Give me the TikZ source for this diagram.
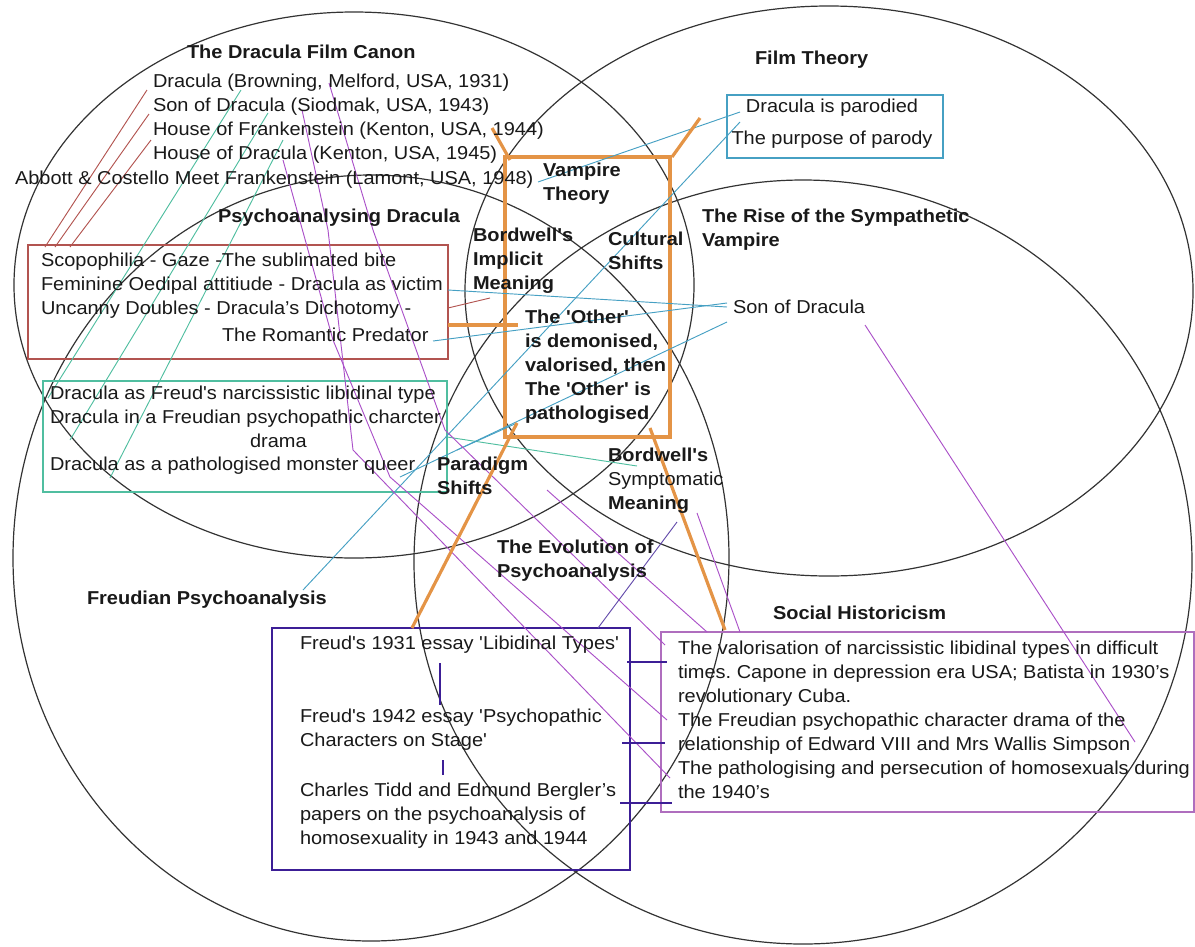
\documentclass[tikz,border=0pt]{standalone}
\usepackage{fontspec}
\newfontfamily\lib{Liberation Sans}[FakeStretch=1.07]
\definecolor{redc}{RGB}{178,84,80}
\definecolor{tealc}{RGB}{80,190,160}
\definecolor{bluec}{RGB}{70,160,195}
\definecolor{violc}{RGB}{170,80,200}
\definecolor{pinkc}{RGB}{175,110,190}
\definecolor{indc}{RGB}{60,30,150}
\definecolor{orc}{RGB}{228,148,70}
\frenchspacing
\begin{document}
\begin{tikzpicture}[x=0.75pt,y=-0.75pt,
  base/.style={inner sep=0pt, outer sep=0pt, align=left, anchor=west, text=black!90},
  txt/.style={base, font=\lib\fontsize{14pt}{18pt}\selectfont},
  lbl/.style={base, font=\lib\fontsize{14pt}{18pt}\selectfont\bfseries},
  ring/.style={draw=black!80, line width=0.9pt},
  frame/.style={inner sep=0pt, outer sep=0pt, anchor=north west},
  redl/.style={draw=redc, line width=0.7pt},
  greenl/.style={draw=tealc, line width=0.7pt},
  bluel/.style={draw=bluec, line width=0.7pt},
  purpl/.style={draw=violc, line width=0.7pt},
  orl/.style={draw=orc, line width=2.4pt},
  indl/.style={draw=indc, line width=2pt}
]
\useasboundingbox (0,0) rectangle (1195,946);

% ---- the four overlapping ellipses
\coordinate (c1) at (354,285);
\coordinate (c2) at (829,291);
\coordinate (c3) at (371,558);
\coordinate (c4) at (803,562);
\draw[ring] (c1) ellipse [x radius=255pt, y radius=204.75pt];
\draw[ring] (c2) ellipse [x radius=273pt, y radius=213.75pt];
\draw[ring] (c3) ellipse [x radius=268.5pt, y radius=287.25pt];
\draw[ring] (c4) ellipse [x radius=291.75pt, y radius=286.5pt];

% ---- boxes
\node[frame, draw=redc, line width=1.1pt, minimum width=315pt, minimum height=85.5pt] (redbox) at (28,245) {};
\node[frame, draw=tealc, line width=1.1pt, minimum width=303pt, minimum height=83.25pt] (gbox) at (43,381) {};
\node[frame, draw=bluec, line width=1.1pt, minimum width=162pt, minimum height=47.25pt] (pbox) at (727,95) {};
\node[frame, draw=indc, line width=2.2pt, minimum width=268.5pt, minimum height=181.5pt] (fbox) at (272,628) {};
\node[frame, draw=pinkc, line width=1.1pt, minimum width=399.75pt, minimum height=135pt] (sbox) at (661,632) {};
\node[frame, draw=orc, line width=2.4pt, minimum width=123.75pt, minimum height=210pt] (orbox) at (505,157) {};

% ---- connector end points
\coordinate (ra1) at (147,90);  \coordinate (rb1) at (45,247);
\coordinate (ra2) at (149,114); \coordinate (rb2) at (55,247);
\coordinate (ra3) at (151,140); \coordinate (rb3) at (70,247);
\coordinate (ra4) at (448,308); \coordinate (rb4) at (490,298);
\coordinate (ga1) at (241,90);  \coordinate (gb1) at (48,398);
\coordinate (ga2) at (268,113); \coordinate (gb2) at (70,440);
\coordinate (ga3) at (283,140); \coordinate (gb3) at (110,478);
\coordinate (ga4) at (447,437); \coordinate (gb4) at (637,466);
\coordinate (ba1) at (448,290); \coordinate (bb1) at (727,307);
\coordinate (ba2) at (433,341); \coordinate (bb2) at (727,303);
\coordinate (ba3) at (400,477); \coordinate (bb3) at (727,322);
\coordinate (ba4) at (538,182); \coordinate (bb4) at (740,112);
\coordinate (ba5) at (303,590); \coordinate (bb5) at (740,122);
\coordinate (ba6) at (457,450); \coordinate (bb6) at (517,423);
\coordinate (pa1) at (283,160); \coordinate (pm1) at (333,340); \coordinate (pn1) at (390,477); \coordinate (pb1) at (667,720);
\coordinate (pa2) at (329,83);  \coordinate (pm2) at (373,230); \coordinate (pn2) at (445,430); \coordinate (pb2) at (665,645);
\coordinate (pa3) at (302,110); \coordinate (pm3) at (328,230); \coordinate (pn3) at (353,450); \coordinate (pb3) at (670,778);
\coordinate (pa4) at (547,490); \coordinate (pb4) at (707,632);
\coordinate (pa5) at (697,513); \coordinate (pb5) at (740,632);
\coordinate (pa6) at (865,325); \coordinate (pb6) at (1135,742);
\coordinate (pa7) at (677,522); \coordinate (pb7) at (598,628);
\coordinate (oa1) at (492,128); \coordinate (ob1) at (510,160);
\coordinate (oa2) at (700,118); \coordinate (ob2) at (672,157);
\coordinate (oa3) at (517,423); \coordinate (ob3) at (412,628);
\coordinate (oa4) at (650,428); \coordinate (ob4) at (725,630);
\coordinate (oa5) at (448,325); \coordinate (ob5) at (518,325);
\coordinate (ia1) at (627,662); \coordinate (ib1) at (667,662);
\coordinate (ia2) at (622,743); \coordinate (ib2) at (665,743);
\coordinate (ia3) at (620,803); \coordinate (ib3) at (672,803);
\coordinate (va1) at (440,663); \coordinate (vb1) at (440,705);
\coordinate (va2) at (443,760); \coordinate (vb2) at (443,775);

% ---- thin connectors
\draw[redl] (ra1) -- (rb1);
\draw[redl] (ra2) -- (rb2);
\draw[redl] (ra3) -- (rb3);
\draw[redl] (ra4) -- (rb4);
\draw[greenl] (ga1) -- (gb1);
\draw[greenl] (ga2) -- (gb2);
\draw[greenl] (ga3) -- (gb3);
\draw[greenl] (ga4) -- (gb4);
\draw[bluel] (ba1) -- (bb1);
\draw[bluel] (ba2) -- (bb2);
\draw[bluel] (ba3) -- (bb3);
\draw[bluel] (ba4) -- (bb4);
\draw[bluel] (ba5) -- (bb5);
\draw[bluel] (ba6) -- (bb6);
\draw[purpl] (pa1) -- (pm1) -- (pn1) -- (pb1);
\draw[purpl] (pa2) -- (pm2) -- (pn2) -- (pb2);
\draw[purpl] (pa3) -- (pm3) -- (pn3) -- (pb3);
\draw[purpl] (pa4) -- (pb4);
\draw[purpl] (pa5) -- (pb5);
\draw[purpl] (pa6) -- (pb6);
\draw[draw=indc!80, line width=0.7pt] (pa7) -- (pb7);

% ---- orange and indigo connectors
\draw[orl] (oa1) -- (ob1);
\draw[orl] (oa2) -- (ob2);
\draw[orl] (oa3) -- (ob3);
\draw[orl] (oa4) -- (ob4);
\draw[orl] (oa5) -- (ob5);
\draw[indl] (ia1) -- (ib1);
\draw[indl] (ia2) -- (ib2);
\draw[indl] (ia3) -- (ib3);
\draw[indl] (va1) -- (vb1);
\draw[indl] (va2) -- (vb2);

% ---- bold labels
\node[lbl] (tcanon) at (187,52) {The Dracula Film Canon};
\node[lbl] (tfilm) at (755,60) {Film Theory};
\node[lbl] (tvamp) at (543,183.5) {Vampire\\Theory};
\node[lbl] (tpsyd) at (218,218) {Psychoanalysing Dracula};
\node[lbl] (timpl) at (473,261) {Bordwell's\\Implicit\\Meaning};
\node[lbl] (tcult) at (608,251) {Cultural\\Shifts};
\node[lbl] (trise) at (702,230) {The Rise of the Sympathetic\\Vampire};
\node[lbl] (tother) at (525,366.5) {The 'Other'\\is demonised,\\valorised, then\\The 'Other' is\\pathologised};
\node[lbl] (tpara) at (437,475.5) {Paradigm\\Shifts};
\node[txt] (tsymp) at (608,481) {\textbf{Bordwell's}\\Symptomatic\\\textbf{Meaning}};
\node[lbl] (tevol) at (497,561) {The Evolution of\\Psychoanalysis};
\node[lbl] (tfreud) at (87,600) {Freudian Psychoanalysis};
\node[lbl] (tsoc) at (773,613) {Social Historicism};

% ---- regular texts
\node[txt] (films) at (153,119) {Dracula (Browning, Melford, USA, 1931)\\Son of Dracula (Siodmak, USA, 1943)\\House of Frankenstein (Kenton, USA, 1944)\\House of Dracula (Kenton, USA, 1945)};
\node[txt] (abbott) at (15,180) {Abbott \& Costello Meet Frankenstein (Lamont, USA, 1948)};
\node[txt] (rtext) at (41,286) {Scopophilia - Gaze -The sublimated bite\\Feminine Oedipal attitiude - Dracula as victim\\Uncanny Doubles - Dracula’s Dichotomy -};
\node[txt] (rtext2) at (222,335) {The Romantic Predator};
\node[txt] (gtext) at (50,406.5) {Dracula as Freud's narcissistic libidinal type\\Dracula in a Freudian psychopathic charcter};
\node[txt] (gdrama) at (250,441) {drama};
\node[txt] (gqueer) at (50,466) {Dracula as a pathologised monster queer};
\node[txt, align=center, anchor=center] (ptext) at (832,124) {Dracula is parodied\\[6pt]The purpose of parody};
\node[txt] (son) at (733,307) {Son of Dracula};
\node[txt] (f1) at (300,645) {Freud's 1931 essay 'Libidinal Types'};
\node[txt] (f2) at (300,730) {Freud's 1942 essay 'Psychopathic\\Characters on Stage'};
\node[txt] (f3) at (300,815.5) {Charles Tidd and Edmund Bergler’s\\papers on the psychoanalysis of\\homosexuality in 1943 and 1944};
\node[txt] (stext) at (678,720) {The valorisation of narcissistic libidinal types in difficult\\times. Capone in depression era USA; Batista in 1930’s\\revolutionary Cuba.\\The Freudian psychopathic character drama of the\\relationship of Edward VIII and Mrs Wallis Simpson\\The pathologising and persecution of homosexuals during\\the 1940’s};
\end{tikzpicture}
\end{document}
